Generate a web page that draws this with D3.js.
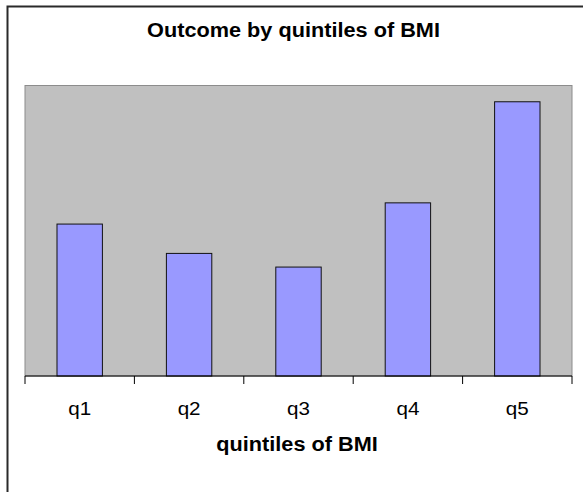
<!DOCTYPE html>
<html>
<head>
<meta charset="utf-8">
<script src="https://cdn.jsdelivr.net/npm/d3@7"></script>
<style>
  html, body { margin: 0; padding: 0; background: #fff; }
  svg { display: block; font-family: "Liberation Sans", Arial, sans-serif; }
</style>
</head>
<body>
<svg id="chart" width="583" height="492"></svg>
<script>
// Chart data
const categories = ["q1", "q2", "q3", "q4", "q5"];
const values = [5.23, 4.22, 3.75, 5.96, 9.44];
const yDomain = [0, 10];
const chartTitle = "Outcome by quintiles of BMI";
const xTitle = "quintiles of BMI";

const svg = d3.select("#chart");
const plot = { left: 25, right: 572, top: 85.5, bottom: 376 };
const stretch = 1.085; // horizontal widening of the text glyphs

// Outer chart frame (continues past the right and bottom edges)
svg.append("rect")
  .attr("x", 7.5).attr("y", 6.5)
  .attr("width", 620).attr("height", 520)
  .attr("fill", "#fff")
  .attr("stroke", "#2a2a2a")
  .attr("stroke-width", 2);

// Plot area background
svg.append("rect")
  .attr("x", plot.left).attr("y", plot.top)
  .attr("width", plot.right - plot.left)
  .attr("height", plot.bottom - plot.top)
  .attr("fill", "#c0c0c0")
  .attr("stroke", "#8c8c8c")
  .attr("stroke-width", 1);

const x = d3.scaleBand()
  .domain(categories)
  .range([plot.left, plot.right])
  .paddingInner(0.585)
  .paddingOuter(0.2925);

const y = d3.scaleLinear()
  .domain(yDomain)
  .range([plot.bottom, plot.top]);

// Bars
svg.append("g")
  .selectAll("rect")
  .data(categories.map((c, i) => ({ c, v: values[i] })))
  .join("rect")
  .attr("x", d => x(d.c))
  .attr("y", d => y(d.v))
  .attr("width", x.bandwidth())
  .attr("height", d => y(0) - y(d.v))
  .attr("fill", "#9999ff")
  .attr("stroke", "#111")
  .attr("stroke-width", 1);

// Category axis: baseline with ticks between categories
const boundaries = d3.range(categories.length + 1).map(i => plot.left + i * (plot.right - plot.left) / categories.length);
const axis = svg.append("g");
axis.append("line")
  .attr("x1", plot.left).attr("x2", plot.right)
  .attr("y1", plot.bottom).attr("y2", plot.bottom)
  .attr("stroke", "#000").attr("stroke-width", 1);
axis.selectAll("line.tick")
  .data(boundaries)
  .join("line")
  .attr("class", "tick")
  .attr("x1", d => d).attr("x2", d => d)
  .attr("y1", plot.bottom).attr("y2", plot.bottom + 8)
  .attr("stroke", "#000").attr("stroke-width", 1);

axis.selectAll("text")
  .data(categories)
  .join("text")
  .attr("transform", d => `translate(${x(d) + x.bandwidth() / 2},414.5) scale(${stretch},1)`)
  .attr("text-anchor", "middle")
  .attr("font-size", 19)
  .attr("fill", "#000")
  .text(d => d);

// Titles
svg.append("text")
  .attr("transform", `translate(293.5,36.5) scale(${stretch},1)`)
  .attr("text-anchor", "middle")
  .attr("font-size", 20)
  .attr("font-weight", "bold")
  .attr("fill", "#000")
  .text(chartTitle);

svg.append("text")
  .attr("transform", `translate(297,451) scale(${stretch},1)`)
  .attr("text-anchor", "middle")
  .attr("font-size", 20)
  .attr("font-weight", "bold")
  .attr("fill", "#000")
  .text(xTitle);
</script>
</body>
</html>
